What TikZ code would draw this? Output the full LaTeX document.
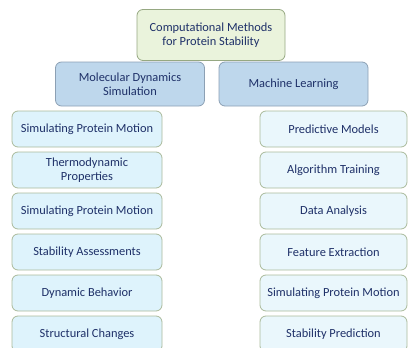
\documentclass[tikz,border=0pt]{standalone}
\usepackage{fontspec}
\setmainfont{Carlito}
\usetikzlibrary{positioning}
\definecolor{txtblue}{RGB}{30,48,104}
\definecolor{topfill}{RGB}{234,243,220}
\definecolor{topline}{RGB}{150,168,130}
\definecolor{catfill}{RGB}{190,215,236}
\definecolor{catline}{RGB}{140,160,180}
\definecolor{leaffill}{RGB}{222,243,252}
\definecolor{leafline}{RGB}{170,186,155}
\definecolor{rleaffill}{RGB}{234,247,252}

\begin{document}
\begin{tikzpicture}[x=1pt,y=-1pt,
  font=\fontsize{12.4}{14.5}\selectfont,
  topbox/.style={draw=topline,fill=topfill,rounded corners=6pt,line width=0.8pt,
    minimum width=148pt,minimum height=51pt,align=center,text=txtblue},
  catbox/.style={draw=catline,fill=catfill,rounded corners=6pt,line width=0.8pt,
    minimum width=149pt,minimum height=44pt,align=center,text=txtblue},
  leafbox/.style={draw=leafline,fill=leaffill,rounded corners=6pt,line width=0.8pt,
    minimum width=150pt,minimum height=36pt,align=center,text=txtblue},
  rleafbox/.style={leafbox,fill=rleaffill,minimum width=147pt}]
\useasboundingbox (0,0) rectangle (408,348);
\clip (0,0) rectangle (408,348);
% top of the tree
\node[topbox] (comp) at (211,35) {Computational Methods\\for Protein Stability};
\node[catbox] (md) at (130,84) {Molecular Dynamics\\Simulation};
\node[catbox] (ml) at (293.5,84) {Machine Learning};
% molecular dynamics column
\node[leafbox] (md1) at (87,129) {Simulating Protein Motion};
\node[leafbox,below=4.2pt of md1] (md2) {Thermodynamic\\Properties};
\node[leafbox,below=4.2pt of md2] (md3) {Simulating Protein Motion};
\node[leafbox,below=4.2pt of md3] (md4) {Stability Assessments};
\node[leafbox,below=4.2pt of md4] (md5) {Dynamic Behavior};
\node[leafbox,below=4.2pt of md5] (md6) {Structural Changes};
% machine learning column
\node[rleafbox] (ml1) at (333.5,129) {Predictive Models};
\node[rleafbox,below=4.2pt of ml1] (ml2) {Algorithm Training};
\node[rleafbox,below=4.2pt of ml2] (ml3) {Data Analysis};
\node[rleafbox,below=4.2pt of ml3] (ml4) {Feature Extraction};
\node[rleafbox,below=4.2pt of ml4] (ml5) {Simulating Protein Motion};
\node[rleafbox,below=4.2pt of ml5] (ml6) {Stability Prediction};
\end{tikzpicture}
\end{document}
